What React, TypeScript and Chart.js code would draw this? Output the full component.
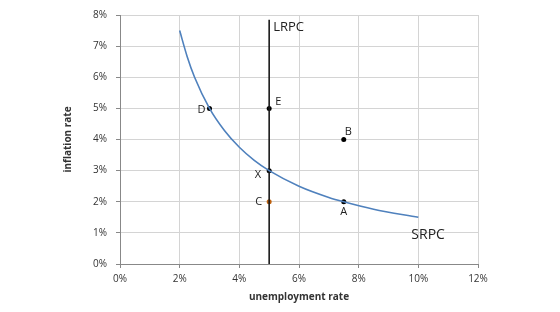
import React, { useEffect, useRef } from "react";
import { Chart, registerables } from "chart.js";

Chart.register(...registerables);

// SRPC curve points (unemployment %, inflation %)
const srpcX = [2, 2.25, 2.5, 3, 3.5, 4, 4.5, 5, 6, 7, 7.5, 8.5, 10];
const srpcY = [7.5, 6.67, 6, 5, 4.29, 3.75, 3.33, 3, 2.5, 2.14, 2, 1.76, 1.5];

// LRPC vertical line
const lrpcX = [5, 5];
const lrpcY = [0, 7.85];

// Labeled points
const pointNames = ["D", "E", "B", "X", "C", "A"];
const pointX = [3, 5, 7.5, 5, 5, 7.5];
const pointY = [5, 5, 4, 3, 2, 2];
const pointColors = ["#000", "#000", "#000", "#000", "#c0620f", "#000"];

const xTicks = [0, 2, 4, 6, 8, 10, 12];
const yTicks = [0, 1, 2, 3, 4, 5, 6, 7, 8];

const FONT = "'Open Sans', 'Liberation Sans', sans-serif";

// label placement: [dx, dy, align]
const labelPlacement: Record<string, [number, number, CanvasTextAlign]> = {
  D: [-4, 1, "right"],
  E: [6, -7, "left"],
  B: [1, -8, "left"],
  X: [-8, 4, "right"],
  C: [-7, 0, "right"],
  A: [0, 10, "center"],
};

const labelPlugin = {
  id: "labels",
  afterDatasetsDraw(chart: any) {
    const { ctx, scales } = chart;
    const xs = scales.x;
    const ys = scales.y;
    ctx.save();
    ctx.fillStyle = "#222";
    ctx.textBaseline = "middle";
    ctx.font = `11px ${FONT}`;
    pointNames.forEach((n, i) => {
      const [dx, dy, al] = labelPlacement[n];
      ctx.textAlign = al;
      ctx.fillText(n, xs.getPixelForValue(pointX[i]) + dx, ys.getPixelForValue(pointY[i]) + dy);
    });
    ctx.font = `13px ${FONT}`;
    ctx.textAlign = "left";
    ctx.fillText("LRPC", xs.getPixelForValue(lrpcX[1]) + 4, ys.getPixelForValue(lrpcY[1]) + 8);
    ctx.font = `14px ${FONT}`;
    const last = srpcX.length - 1;
    ctx.fillText("SRPC", xs.getPixelForValue(srpcX[last]) - 7, ys.getPixelForValue(srpcY[last]) + 18);
    ctx.restore();
  },
};

export default function App() {
  const ref = useRef<HTMLCanvasElement>(null);
  useEffect(() => {
    document.body.style.margin = "0";
    const chart = new Chart(ref.current!, {
      type: "scatter",
      data: {
        datasets: [
          {
            data: srpcX.map((x, i) => ({ x, y: srpcY[i] })),
            showLine: true,
            borderColor: "#4f81bd",
            borderWidth: 1.6,
            pointRadius: 0,
            cubicInterpolationMode: "monotone",
          },
          {
            data: lrpcX.map((x, i) => ({ x, y: lrpcY[i] })),
            showLine: true,
            borderColor: "#1a1a1a",
            borderWidth: 1.6,
            pointRadius: 0,
          },
          {
            data: pointX.map((x, i) => ({ x, y: pointY[i] })),
            showLine: false,
            pointRadius: 2.5,
            pointBackgroundColor: pointColors,
            pointBorderColor: pointColors,
            borderWidth: 0,
          },
        ],
      },
      options: {
        animation: false,
        responsive: false,
        layout: { padding: { left: 0, right: 82, top: 14, bottom: 0 } },
        plugins: { legend: { display: false }, tooltip: { enabled: false } },
        scales: {
          x: {
            type: "linear",
            min: 0,
            max: 12,
            afterBuildTicks: (s: any) => {
              s.ticks = xTicks.map((v) => ({ value: v }));
            },
            afterFit: (s: any) => {
              s.height = 48;
            },
            ticks: {
              color: "#333",
              font: { family: FONT, size: 10 },
              padding: 5,
              callback: (v: any) => v + "%",
            },
            grid: { color: "#d4d4d4", tickColor: "#888", tickLength: 4 },
            border: { color: "#888", width: 1 },
            title: {
              display: true,
              text: "unemployment rate",
              color: "#333",
              font: { family: FONT, size: 10, weight: "bold" },
              padding: { top: 9, bottom: 9 },
            },
          },
          y: {
            type: "linear",
            min: 0,
            max: 8,
            afterBuildTicks: (s: any) => {
              s.ticks = yTicks.map((v) => ({ value: v }));
            },
            afterFit: (s: any) => {
              s.width = 120;
            },
            ticks: {
              color: "#333",
              font: { family: FONT, size: 10 },
              padding: 9,
              callback: (v: any) => v + "%",
            },
            grid: { color: "#d4d4d4", tickColor: "#888", tickLength: 4 },
            border: { color: "#888", width: 1 },
            title: {
              display: true,
              text: "inflation rate",
              color: "#333",
              font: { family: FONT, size: 10, weight: "bold" },
              padding: { top: 62, bottom: 0 },
            },
          },
        },
      },
      plugins: [labelPlugin],
    } as any);
    return () => chart.destroy();
  }, []);
  return (
    <div style={{ width: 560, height: 312, background: "#fff" }}>
      <canvas ref={ref} width={560} height={312} />
    </div>
  );
}
